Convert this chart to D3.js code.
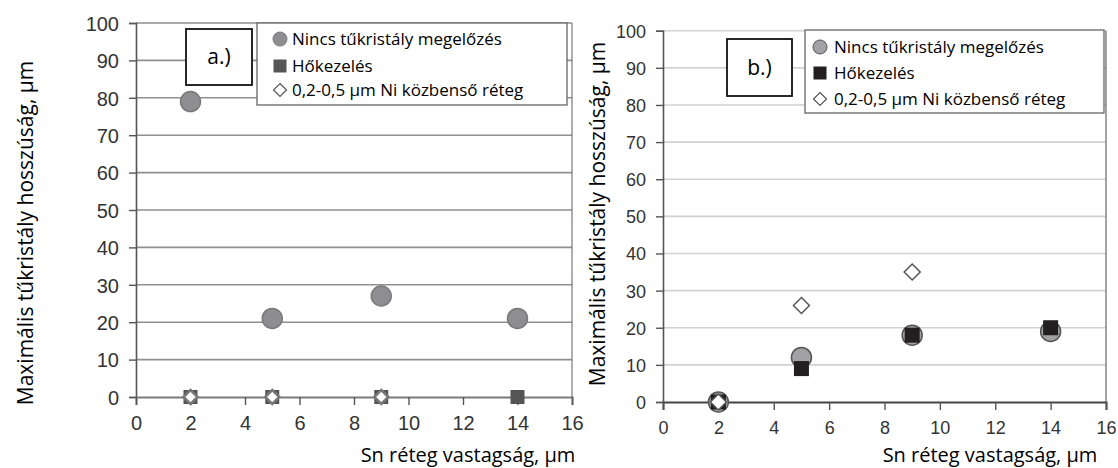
<!DOCTYPE html>
<html>
<head>
    <meta charset="utf-8">
    <title>Tűkristály hossz</title>
    <script src="https://d3js.org/d3.v7.min.js"></script>
    <style>
        body {
            margin: 0;
            background: #fff;
        }
        svg {
            display: block;
        }
        .tick-label {
            font-family: "Liberation Sans", Arial, sans-serif;
            fill: #333;
        }
        .calib {
            font-family: "Open Sans", "Noto Sans", sans-serif;
            fill: #000;
        }
    </style>
</head>
<body>
    <div id="chart"></div>

    <script>
        const width = 1118;
        const height = 468;

        // Data
        const snThickness = [2, 5, 9, 14];
        const seriesNames = ['Nincs tűkristály megelőzés', 'Hőkezelés', '0,2-0,5 µm Ni közbenső réteg'];

        // panel a.)
        const aNoPrevention = [79, 21, 27, 21];
        const aHeatTreatment = [0, 0, 0, 0];
        const aNiLayer = [0, 0, 0, null];

        // panel b.)
        const bNoPrevention = [0, 12, 18, 19];
        const bHeatTreatment = [0, 9, 18, 20];
        const bNiLayer = [0, 26, 35, null];

        const xTicks = [0, 2, 4, 6, 8, 10, 12, 14, 16];
        const yTicks = [0, 10, 20, 30, 40, 50, 60, 70, 80, 90, 100];

        const xTitle = 'Sn réteg vastagság, µm';
        const yTitle = 'Maximális tűkristály hosszúság, µm';

        const svg = d3.select('#chart')
            .append('svg')
            .attr('width', width)
            .attr('height', height);

        const panels = [
            {
                label: 'a.)',
                series: [aNoPrevention, aHeatTreatment, aNiLayer],
                x: d3.scaleLinear().domain([0, 16]).range([136, 572]),
                y: d3.scaleLinear().domain([0, 100]).range([397, 23]),
                grid: '#8f8f8f', axis: '#555', zeroLine: '#7a7a7a', tickSize: 20,
                circle: { fill: '#8e8e90', stroke: '#7a7a7a', r: 10 },
                square: { fill: '#555555', size: 14 },
                diamond: { stroke: '#777', size: 7, width: 2.5 },
                labelBox: [186, 29, 66, 56],
                legend: { x: 257, y: 23, w: 310, h: 82, rows: [39, 66, 90], markX: 280, textX: 292 },
                yTitleX: 33, yTitleY: 233, xTitleX: 468, xTitleY: 462, rightBorder: '#777'
            },
            {
                label: 'b.)',
                series: [bNoPrevention, bHeatTreatment, bNiLayer],
                x: d3.scaleLinear().domain([0, 16]).range([663, 1106]),
                y: d3.scaleLinear().domain([0, 100]).range([402, 30.7]),
                grid: '#d2d2d2', axis: '#555', zeroLine: '#444', tickSize: 18,
                circle: { fill: '#a2a2a4', stroke: '#555', r: 10 },
                square: { fill: '#231f20', size: 15 },
                diamond: { stroke: '#555', size: 8, width: 1.5 },
                labelBox: [727, 39, 65, 57],
                legend: { x: 805, y: 30, w: 299, h: 83, rows: [47, 73, 99], markX: 820, textX: 834 },
                yTitleX: 605, yTitleY: 214, xTitleX: 990, xTitleY: 462, rightBorder: '#666'
            }
        ];

        const diamondPath = s => `M0,${-s}L${s},0L0,${s}L${-s},0Z`;

        panels.forEach(p => {
            const g = svg.append('g');
            const [x0, x1] = p.x.range();
            const [y0, y1] = p.y.range();

            // horizontal gridlines
            g.selectAll('.grid')
                .data(yTicks.filter(v => v > 0))
                .join('line')
                .attr('x1', x0).attr('x2', x1)
                .attr('y1', d => p.y(d)).attr('y2', d => p.y(d))
                .attr('stroke', p.grid)
                .attr('stroke-width', 1.6);

            // right border
            g.append('line')
                .attr('x1', x1).attr('x2', x1)
                .attr('y1', y1).attr('y2', y0)
                .attr('stroke', p.rightBorder)
                .attr('stroke-width', 1.2);

            // y axis
            const yAxis = g.append('g')
                .attr('transform', `translate(${x0},0)`)
                .call(d3.axisLeft(p.y).tickValues(yTicks).tickSize(7).tickPadding(10));
            yAxis.select('.domain').attr('stroke', p.axis).attr('stroke-width', 1.6);
            yAxis.selectAll('.tick line').attr('stroke', p.axis).attr('stroke-width', 1.4);
            yAxis.selectAll('.tick text')
                .attr('class', 'tick-label')
                .style('font-size', p.tickSize + 'px')
                .attr('dy', '0.36em');

            // x axis
            const xAxis = g.append('g')
                .attr('transform', `translate(0,${y0})`)
                .call(d3.axisBottom(p.x).tickValues(xTicks).tickSize(8).tickPadding(11));
            xAxis.select('.domain').attr('stroke', p.zeroLine).attr('stroke-width', 2);
            xAxis.selectAll('.tick line').attr('stroke', p.axis).attr('stroke-width', 1.4);
            xAxis.selectAll('.tick text')
                .attr('class', 'tick-label')
                .style('font-size', p.tickSize + 'px');

            // titles
            g.append('text')
                .attr('class', 'calib')
                .attr('transform', `translate(${p.yTitleX},${p.yTitleY}) rotate(-90)`)
                .attr('text-anchor', 'middle')
                .style('font-size', '21px')
                .text(yTitle);

            g.append('text')
                .attr('class', 'calib')
                .attr('x', p.xTitleX)
                .attr('y', p.xTitleY)
                .attr('text-anchor', 'middle')
                .style('font-size', '20px')
                .text(xTitle);

            // markers
            const pts = s => snThickness.map((x, i) => ({ x, v: s[i] })).filter(d => d.v !== null);

            g.selectAll('.c')
                .data(pts(p.series[0]))
                .join('circle')
                .attr('cx', d => p.x(d.x))
                .attr('cy', d => p.y(d.v))
                .attr('r', p.circle.r)
                .attr('fill', p.circle.fill)
                .attr('stroke', p.circle.stroke)
                .attr('stroke-width', 1.5);

            g.selectAll('.s')
                .data(pts(p.series[1]))
                .join('rect')
                .attr('x', d => p.x(d.x) - p.square.size / 2)
                .attr('y', d => p.y(d.v) - p.square.size / 2)
                .attr('width', p.square.size)
                .attr('height', p.square.size)
                .attr('fill', p.square.fill);

            g.selectAll('.d')
                .data(pts(p.series[2]))
                .join('path')
                .attr('transform', d => `translate(${p.x(d.x)},${p.y(d.v)})`)
                .attr('d', diamondPath(p.diamond.size))
                .attr('fill', '#fff')
                .attr('stroke', p.diamond.stroke)
                .attr('stroke-width', p.diamond.width);

            // panel label box
            const [bx, by, bw, bh] = p.labelBox;
            g.append('rect')
                .attr('x', bx).attr('y', by).attr('width', bw).attr('height', bh)
                .attr('fill', '#fff')
                .attr('stroke', '#111')
                .attr('stroke-width', 1.8);
            g.append('text')
                .attr('class', 'calib')
                .attr('x', bx + bw / 2)
                .attr('y', by + bh / 2)
                .attr('dy', '0.35em')
                .attr('text-anchor', 'middle')
                .style('font-size', '21px')
                .text(p.label);

            // legend
            const L = p.legend;
            g.append('rect')
                .attr('x', L.x).attr('y', L.y).attr('width', L.w).attr('height', L.h)
                .attr('fill', '#fff')
                .attr('stroke', '#666')
                .attr('stroke-width', 1.3);

            g.append('circle')
                .attr('cx', L.markX).attr('cy', L.rows[0]).attr('r', 7)
                .attr('fill', p.circle.fill).attr('stroke', p.circle.stroke).attr('stroke-width', 1);
            g.append('rect')
                .attr('x', L.markX - 6.5).attr('y', L.rows[1] - 6.5).attr('width', 13).attr('height', 13)
                .attr('fill', p.square.fill);
            g.append('path')
                .attr('transform', `translate(${L.markX},${L.rows[2]})`)
                .attr('d', diamondPath(6.5))
                .attr('fill', '#fff').attr('stroke', '#555').attr('stroke-width', 1.2);

            g.selectAll('.leg-text')
                .data(seriesNames)
                .join('text')
                .attr('class', 'calib')
                .attr('x', L.textX)
                .attr('y', (d, i) => L.rows[i])
                .attr('dy', '0.35em')
                .style('font-size', '17px')
                .text(d => d);
        });
    </script>
</body>
</html>
